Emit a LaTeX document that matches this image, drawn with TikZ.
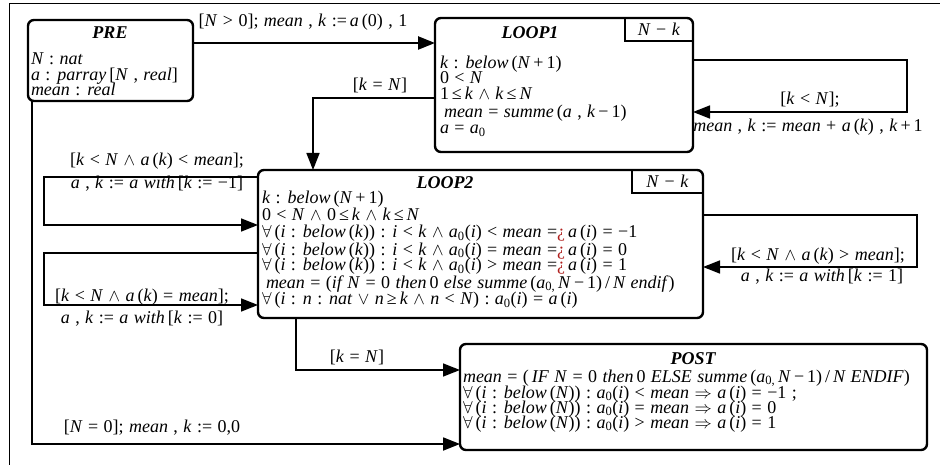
\documentclass[tikz,border=0pt]{standalone}
\usepackage{fontspec}
\setmainfont{Liberation Serif}[WordSpace=1.2]
\usetikzlibrary{arrows.meta,calc}
\definecolor{qred}{HTML}{B0201E}
\newcommand\V[1]{\textit{#1}}
\newcommand\qq{{\color{qred}¿}}
\newcommand\zs{\textsubscript{0}}
\begin{document}
\begin{tikzpicture}[x=1pt,y=-1pt,
  every node/.style={inner sep=0pt, outer sep=0pt, font=\fontsize{18}{18}\selectfont},
  box/.style={draw, line width=2.4pt, rounded corners=6pt},
  conn/.style={line width=1.5pt},
  boldconn/.style={line width=2.4pt},
  tip/.style={-{Triangle[length=17pt,width=13pt]}},
  ln/.style={anchor=base west},
  ttl/.style={font=\fontsize{18}{18}\selectfont\bfseries\itshape}]
\useasboundingbox (0,0) rectangle (940,465);
\draw[line width=0.8pt] (9,465) -- (9,3) -- (940,3);

% boxes
\node[box, minimum width=165pt, minimum height=81pt] (pre) at (110.5,60.5) {};
\node[box, minimum width=258pt, minimum height=134pt] (loop1) at (564,85) {};
\node[box, minimum width=445pt, minimum height=148pt] (loop2) at (480.5,244) {};
\node[box, minimum width=467pt, minimum height=106pt] (post) at (693.5,397) {};

% tabs
\node[minimum width=68pt, minimum height=23pt] (tab1) at (659,29.5) {\V{N} − \V{k}};
\draw[line width=1.8pt] (tab1.north west) -- (tab1.south west) -- (tab1.south east);
\node[minimum width=71pt, minimum height=23pt] (tab2) at (667.5,181.5) {\V{N} − \V{k}};
\draw[line width=1.8pt] (tab2.north west) -- (tab2.south west) -- (tab2.south east);

% titles
\node[ttl] (pret) at (110,33) {PRE};
\node[ttl] (l1t) at (530,33) {LOOP1};
\node[ttl] (l2t) at (445,183) {LOOP2};
\node[ttl] (pot) at (693,359) {POST};

% PRE body
\node[ln] (p1) at (31,65) {\V{N} : \V{nat}};
\node[ln] (p2) at (31,81) {\V{a} : \V{parray}\,[\V{N} , \V{real}]};
\node[ln] (p3) at (31,96) {\V{mean} : \V{real}};

% LOOP1 body
\node[ln] (a1t) at (440,69) {\V{k} : \V{below}\,(\V{N}\,+\,1)};
\node[ln] (a2t) at (440,84) {0 < \V{N}};
\node[ln] (a3t) at (440,100) {1\,≤\,\V{k} $\wedge$ \V{k}\,≤\,\V{N}};
\node[ln] (a4t) at (444,118) {\V{mean} = \V{summe}\,(\V{a} , \V{k}\,−\,1)};
\node[ln] (a5t) at (440,134) {\V{a} = \V{a}\zs};

% LOOP2 body
\node[ln] (b1) at (262,204) {\V{k} : \V{below}\,(\V{N}\,+\,1)};
\node[ln] (b2) at (262,221) {0 < \V{N} $\wedge$ 0\,≤\,\V{k} $\wedge$ \V{k}\,≤\,\V{N}};
\node[ln] (b3) at (262,238) {$\forall$\,(\V{i} : \V{below}\,(\V{k})) : \V{i} < \V{k} $\wedge$ \V{a}\zs(\V{i}) < \V{mean} =\qq\,\V{a}\,(\V{i}) = −1};
\node[ln] (b4) at (262,255) {$\forall$\,(\V{i} : \V{below}\,(\V{k})) : \V{i} < \V{k} $\wedge$ \V{a}\zs(\V{i}) = \V{mean} =\qq\,\V{a}\,(\V{i}) = 0};
\node[ln] (b5) at (262,271) {$\forall$\,(\V{i} : \V{below}\,(\V{k})) : \V{i} < \V{k} $\wedge$ \V{a}\zs(\V{i}) > \V{mean} =\qq\,\V{a}\,(\V{i}) = 1};
\node[ln] (b6) at (266,288) {\V{mean} = (\V{if N} = 0 \V{then}\,0 \V{else summe}\,(\V{a}\textsubscript{0,}\,\V{N}\,−\,1)\,/\,\V{N endif})};
\node[ln] (b7) at (262,305) {$\forall$\,(\V{i} : \V{n} : \V{nat} $\vee$ \V{n}\,≥\,\V{k} $\wedge$ \V{n} < \V{N}) : \V{a}\zs(\V{i}) = \V{a}\,(\V{i})};

% POST body
\node[ln] (c1) at (463,382) {\V{mean} = (\,\V{IF N} = 0 \V{then}\,0 \V{ELSE summe}\,(\V{a}\textsubscript{0,}\,\V{N}\,−\,1)\,/\,\V{N ENDIF})};
\node[ln] (c2) at (463,398) {$\forall$\,(\V{i} : \V{below}\,(\V{N})) : \V{a}\zs(\V{i}) < \V{mean} $\Rightarrow$ \V{a}\,(\V{i}) = −1 ;};
\node[ln] (c3) at (463,413) {$\forall$\,(\V{i} : \V{below}\,(\V{N})) : \V{a}\zs(\V{i}) = \V{mean} $\Rightarrow$ \V{a}\,(\V{i}) = 0};
\node[ln] (c4) at (463,428) {$\forall$\,(\V{i} : \V{below}\,(\V{N})) : \V{a}\zs(\V{i}) > \V{mean} $\Rightarrow$ \V{a}\,(\V{i}) = 1};

% PRE -> LOOP1
\coordinate (x1) at ($(pre.north east)+(0,23)$);
\draw[boldconn,tip] (x1) -- (x1 -| loop1.west);
\node (lab1) at (303,22) {[\V{N} > 0]; \V{mean} , \V{k} :=\,\V{a}\,(0) , 1};

% LOOP1 self loop
\coordinate (r1a) at ($(loop1.north east)+(0,42)$);
\coordinate (r1b) at ($(loop1.north east)+(0,94)$);
\draw[conn,tip] (r1a) -- ++(214,0) |- (r1b);
\node (lab2) at (810,100) {[\V{k} < \V{N}];};
\node (lab3) at (808,127) {\V{mean} , \V{k} := \V{mean} + \V{a}\,(\V{k}) , \V{k}\,+\,1};

% LOOP1 -> LOOP2
\coordinate (k1) at ($(loop1.north west)+(0,80)$);
\coordinate (k2) at ($(loop2.north west)+(55,0)$);
\draw[conn,tip] (k1) -| (k2);
\node (lab4) at (380,85) {[\V{k} = \V{N}]};

% LOOP2 left loop (less)
\coordinate (l1a) at ($(loop2.north west)+(0,7)$);
\coordinate (l1b) at ($(loop2.north west)+(0,55)$);
\draw[conn,tip] (l1a) -- ++(-214,0) |- (l1b);
\node (lab5) at (157,161) {[\V{k} < \V{N} $\wedge$ \V{a}\,(\V{k}) < \V{mean}];};
\node (lab6) at (157,184) {\V{a} , \V{k} := \V{a} \V{with}\,[\V{k} := −1]};

% LOOP2 left loop (equal)
\coordinate (l2a) at ($(loop2.north west)+(0,83)$);
\coordinate (l2b) at ($(loop2.north west)+(0,135)$);
\draw[conn,tip] (l2a) -- ++(-214,0) |- (l2b);
\node (lab7) at (142,297) {[\V{k} < \V{N} $\wedge$ \V{a}\,(\V{k}) = \V{mean}];};
\node (lab8) at (142,319) {\V{a} , \V{k} := \V{a} \V{with}\,[\V{k} := 0]};

% LOOP2 right loop (greater)
\coordinate (rr1) at ($(loop2.north east)+(0,45)$);
\coordinate (rr2) at ($(loop2.north east)+(0,97)$);
\draw[conn,tip] (rr1) -- ++(214,0) |- (rr2);
\node (lab9) at (818,256) {[\V{k} < \V{N} $\wedge$ \V{a}\,(\V{k}) > \V{mean}];};
\node (lab10) at (822,277) {\V{a} , \V{k} := \V{a} \V{with}\,[\V{k} := 1]};

% LOOP2 -> POST
\coordinate (d1) at ($(loop2.south west)+(38,0)$);
\coordinate (d2) at ($(post.north west)+(0,26)$);
\draw[conn,tip] (d1) |- (d2);
\node (lab11) at (357,357) {[\V{k} = \V{N}]};

% PRE -> POST
\coordinate (e1) at ($(pre.south west)+(4,0)$);
\coordinate (e2) at ($(post.north west)+(0,100)$);
\draw[line width=1.8pt,tip] (e1) |- (e2);
\node (lab12) at (152,428) {[\V{N} = 0]; \V{mean} , \V{k} := 0,0};
\end{tikzpicture}
\end{document}
